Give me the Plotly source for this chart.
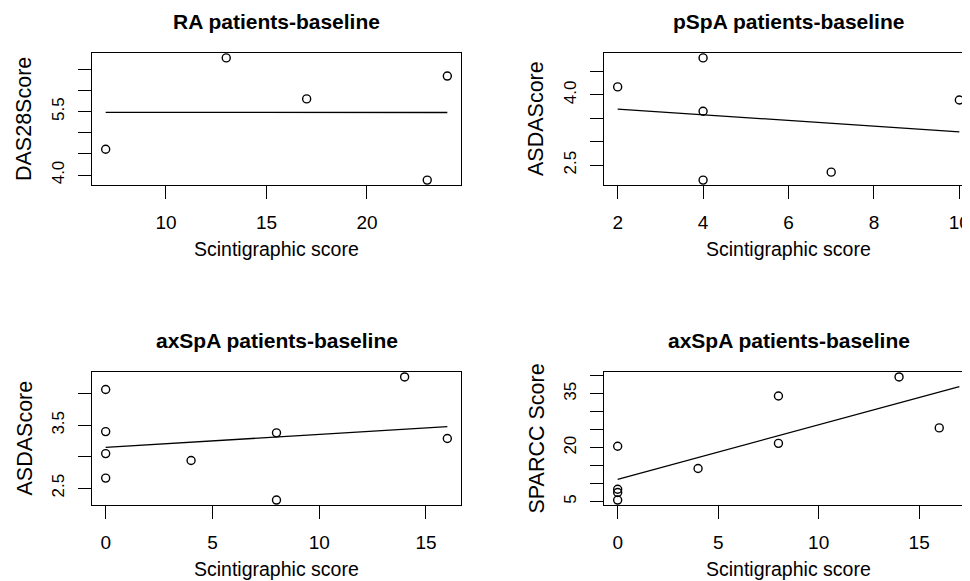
import numpy as np
import plotly.graph_objects as go

FONT = "Liberation Sans, Arial, Helvetica, sans-serif"
OFF = 8                      # default page body margin
W, H = 970 - OFF, 581 - OFF  # figure size that fits the window

# ---------------- data ----------------
ra_x = [7, 13, 17, 23, 24]
ra_y = [4.61, 6.77, 5.80, 3.88, 6.34]

pspa_x = [2, 4, 4, 4, 7, 10]
pspa_y = [4.17, 4.79, 3.65, 2.18, 2.35, 3.89]

ax_x = [0, 0, 0, 0, 4, 8, 8, 14, 16]
ax_asda_y = [4.07, 3.40, 3.05, 2.66, 2.94, 3.38, 2.31, 4.27, 3.29]
ax_sparcc_y = [20.4, 8.4, 7.5, 5.4, 14.2, 34.4, 21.2, 39.7, 25.5]

titles = ["RA patients-baseline", "pSpA patients-baseline",
          "axSpA patients-baseline", "axSpA patients-baseline"]
y_titles = ["DAS28Score", "ASDAScore", "ASDAScore", "SPARCC Score"]
x_title = "Scintigraphic score"

xlims = [[7, 24], [2, 10], [0, 16], [0, 17]]
x_tickvals = [[10, 15, 20], [2, 4, 6, 8, 10], [0, 5, 10, 15], [0, 5, 10, 15]]
y_tickvals = [[4.0, 4.5, 5.0, 5.5, 6.0, 6.5],
              [2.5, 3.0, 3.5, 4.0, 4.5],
              [2.5, 3.0, 3.5, 4.0],
              [5, 10, 15, 20, 25, 30, 35, 40]]
y_ticktext = [["4.0", "", "", "5.5", "", ""],
              ["2.5", "", "", "4.0", ""],
              ["2.5", "", "3.5", ""],
              ["5", "", "", "20", "", "", "35", ""]]

panels = [(ra_x, ra_y), (pspa_x, pspa_y), (ax_x, ax_asda_y), (ax_x, ax_sparcc_y)]

# ---------------- layout geometry (window pixels) ----------------
boxes = [(92, 461, 53, 185), (604, 973, 53, 185),
         (92, 461, 372, 505), (604, 973, 372, 505)]

XTICK_FS = 19
YTICK_FS = 17
XTITLE_FS = 19.5
YTITLE_FS = 21.5
TITLE_FS = 21
LW = 1.3

fig = go.Figure()
annotations = []
layout = {}


def px(v):
    return v - OFF


for i, ((xs, ys), box) in enumerate(zip(panels, boxes)):
    x0, x1, y0, y1 = [px(v) for v in box]
    n = i + 1
    xa = "x" if n == 1 else f"x{n}"
    ya = "y" if n == 1 else f"y{n}"
    lo, hi = xlims[i]
    span = hi - lo
    r0, r1 = lo - 0.04 * span, hi + 0.04 * span
    xr_end, x1c = r1, x1
    right_cut = x1 > W
    if right_cut:
        xr_end = r0 + (r1 - r0) * (W - x0) / (x1 - x0)
        x1c = W
    ylo, yhi = min(ys), max(ys)
    ysp = yhi - ylo
    yr = [ylo - 0.04 * ysp, yhi + 0.04 * ysp]

    fig.add_trace(go.Scatter(
        x=xs, y=ys, mode="markers", xaxis=xa, yaxis=ya,
        marker=dict(symbol="circle-open", size=8, color="black",
                    line=dict(width=1.4, color="black")),
        hoverinfo="skip"))
    slope, icpt = np.polyfit(xs, ys, 1)
    lx = np.array(xlims[i], dtype=float)
    fig.add_trace(go.Scatter(
        x=lx, y=slope * lx + icpt, mode="lines", xaxis=xa, yaxis=ya,
        line=dict(color="black", width=LW), hoverinfo="skip"))

    axis_common = dict(showgrid=False, zeroline=False, showline=True,
                       linecolor="black", linewidth=LW, ticks="outside",
                       ticklen=13, tickwidth=LW, tickcolor="black")
    layout["xaxis" if n == 1 else f"xaxis{n}"] = dict(
        axis_common, domain=[x0 / W, x1c / W], range=[r0, xr_end],
        tickmode="array", tickvals=x_tickvals[i],
        ticktext=[str(v) for v in x_tickvals[i]],
        tickfont=dict(family=FONT, size=XTICK_FS, color="black"),
        mirror=True, anchor=ya, ticklabelstandoff=7)
    layout["yaxis" if n == 1 else f"yaxis{n}"] = dict(
        axis_common, domain=[1 - y1 / H, 1 - y0 / H], range=yr,
        tickmode="array", tickvals=y_tickvals[i], ticktext=y_ticktext[i],
        tickfont=dict(family=FONT, size=YTICK_FS, color="black"),
        tickangle=-90, mirror=(not right_cut), anchor=xa, ticklabelstandoff=7)

    cx = (x0 + x1) / 2
    annotations.append(dict(
        text=f"<b>{titles[i]}</b>", x=cx / W, y=1 - (y0 - 32) / H,
        xref="paper", yref="paper", xanchor="center", yanchor="middle",
        showarrow=False, font=dict(family=FONT, size=TITLE_FS, color="black")))
    annotations.append(dict(
        text=x_title, x=cx / W, y=1 - (y1 + 64) / H,
        xref="paper", yref="paper", xanchor="center", yanchor="middle",
        showarrow=False, font=dict(family=FONT, size=XTITLE_FS, color="black")))
    annotations.append(dict(
        text=y_titles[i], x=(x0 - 68) / W, y=1 - ((y0 + y1) / 2) / H,
        xref="paper", yref="paper", xanchor="center", yanchor="middle",
        textangle=-90, showarrow=False,
        font=dict(family=FONT, size=YTITLE_FS, color="black")))

fig.update_layout(
    width=W, height=H, autosize=False,
    margin=dict(l=0, r=0, t=0, b=0),
    paper_bgcolor="white", plot_bgcolor="white",
    showlegend=False, annotations=annotations, **layout)

fig.write_html("out.html")
